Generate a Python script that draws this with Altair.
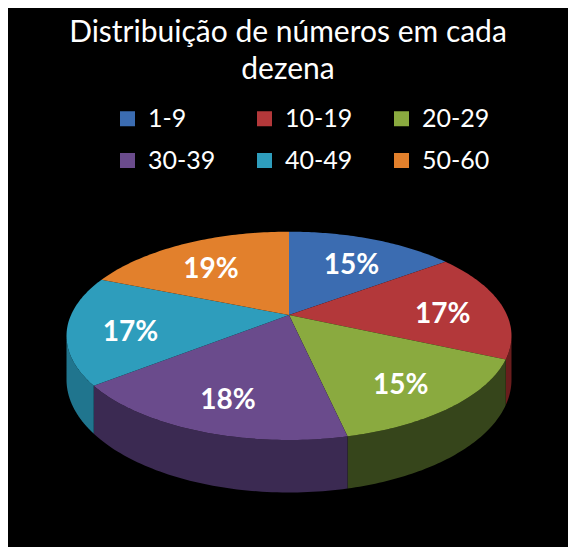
import math
import altair as alt
import pandas as pd

# ---- data ----
categories = ["1-9", "10-19", "20-29", "30-39", "40-49", "50-60"]
values = [15, 17, 15, 18, 17, 19]          # percentages shown on the chart
labels = ["15%", "17%", "15%", "18%", "17%", "19%"]
top_colors = ["#3B6CB1", "#B3383A", "#8AAA3F", "#6A4B8C", "#2E9DBC", "#E2802C"]
wall_colors = ["#233F6A", "#6A1D1D", "#36451B", "#3B2A52", "#20758E", "#8A4C18"]
title_lines = ["Distribuição de números em cada", "dezena"]

# ---- derived geometry: unit disc seen in mild perspective, drawn through x/y scales ----
N = 60
K = 0.2             # perspective strength (back of the disc appears smaller)
DEPTH = 0.42        # side-wall thickness (y units at unit perspective)
total = sum(values)


def proj(X, Z):
    s = 1.0 / (1.0 + K * Z)
    return X * s, Z * s, s


A_SIDE = math.acos(-K)    # silhouette angles where the wall starts/ends

poly_rows, wall_rows, label_rows = [], [], []
cum = 0.0
for i, (cat, v) in enumerate(zip(categories, values)):
    a0 = 2 * math.pi * cum / total
    a1 = 2 * math.pi * (cum + v) / total
    cum += v
    pid = f"top{i}"
    poly_rows.append(dict(pid=pid, cat=cat, k=0, x=0.0, y=0.0))
    for j in range(N + 1):
        a = a0 + (a1 - a0) * j / N
        x, y, s = proj(math.sin(a), math.cos(a))
        poly_rows.append(dict(pid=pid, cat=cat, k=j + 1, x=x, y=y))
    w0, w1 = max(a0, A_SIDE), min(a1, 2 * math.pi - A_SIDE)
    if w1 > w0:
        wid = f"wall{i}"
        k = 0
        for j in range(N + 1):
            a = w0 + (w1 - w0) * j / N
            x, y, s = proj(math.sin(a), math.cos(a))
            wall_rows.append(dict(pid=wid, wcat=cat + " wall", k=k, x=x, y=y))
            k += 1
        for j in range(N, -1, -1):
            a = w0 + (w1 - w0) * j / N
            x, y, s = proj(math.sin(a), math.cos(a))
            wall_rows.append(dict(pid=wid, wcat=cat + " wall", k=k, x=x, y=y - DEPTH * s))
            k += 1
    mid = (a0 + a1) / 2
    f = 0.72
    x, y, s = proj(f * math.sin(mid), f * math.cos(mid))
    label_rows.append(dict(cat=cat, text=labels[i], x=x, y=y - 0.08))

top_df = pd.DataFrame(poly_rows)
wall_df = pd.DataFrame(wall_rows)
lab_df = pd.DataFrame(label_rows)

W, H = 560, 539
RX, RY = 218, 100
CX, CY = 281, 307
xs = alt.Scale(domain=[-CX / RX, (W - CX) / RX], nice=False, zero=False)
ys = alt.Scale(domain=[(CY - H) / RY, CY / RY], nice=False, zero=False)

walls = alt.Chart(wall_df).mark_line(filled=True, interpolate="linear", strokeWidth=0).encode(
    x=alt.X("x:Q", scale=xs, axis=None),
    y=alt.Y("y:Q", scale=ys, axis=None),
    color=alt.Color("wcat:N", scale=alt.Scale(domain=[c + " wall" for c in categories], range=wall_colors), legend=None),
    detail="pid:N",
    order=alt.Order("k:Q"),
)

tops = alt.Chart(top_df).mark_line(filled=True, interpolate="linear", strokeWidth=0).encode(
    x=alt.X("x:Q", scale=xs, axis=None),
    y=alt.Y("y:Q", scale=ys, axis=None),
    color=alt.Color(
        "cat:N",
        scale=alt.Scale(domain=categories, range=top_colors),
        legend=alt.Legend(
            title=None, orient="none", legendX=107, legendY=98, columns=3, direction="horizontal",
            symbolType="square", symbolSize=225, symbolStrokeWidth=0,
            labelColor="white", labelFontSize=25, labelFont="Lato",
            labelOffset=8, columnPadding=36, rowPadding=16, gridAlign="all",
        ),
    ),
    detail="pid:N",
    order=alt.Order("k:Q"),
)

texts = alt.Chart(lab_df).mark_text(
    color="white", fontSize=28, fontWeight="bold", font="Lato", align="center", baseline="middle"
).encode(
    x=alt.X("x:Q", scale=xs, axis=None),
    y=alt.Y("y:Q", scale=ys, axis=None),
    text="text:N",
)

chart = (
    alt.layer(walls, tops, texts)
    .resolve_scale(color="independent")
    .properties(
        width=W, height=H,
        autosize=alt.AutoSizeParams(type="none"),
        padding=0,
        background="black",
        title=alt.Title(
            title_lines, color="white", fontSize=30, fontWeight="normal", font="Lato",
            anchor="middle", frame="group", baseline="top", dy=81, lineHeight=37,
        ),
    )
    .configure_view(stroke=None)
)

chart.save("out.html", embed_options={"renderer": "svg", "actions": False})
